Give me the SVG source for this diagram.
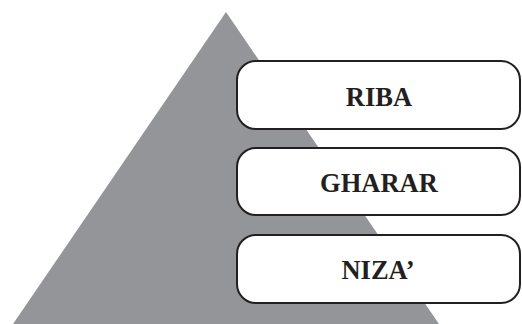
<svg xmlns="http://www.w3.org/2000/svg" width="522" height="324" viewBox="0 0 522 324">
  <style>
    .box { fill: #ffffff; stroke: #231f20; stroke-width: 2; }
    .label { font-family: "Liberation Serif", "DejaVu Serif", serif; font-weight: bold; font-size: 26.5px; fill: #231f20; text-anchor: middle; }
  </style>
  <rect width="522" height="324" fill="#ffffff"/>
  <!-- pyramid backdrop -->
  <polygon id="pyramid" points="226,12 439,324 13,324" fill="#939598"/>
  <g id="riba">
    <rect class="box" x="237" y="61" width="283" height="68" rx="19" ry="19"/>
    <text class="label" x="379" y="106">RIBA</text>
  </g>
  <g id="gharar">
    <rect class="box" x="237" y="148" width="283" height="67" rx="19" ry="19"/>
    <text class="label" x="379" y="192">GHARAR</text>
  </g>
  <g id="niza">
    <rect class="box" x="237" y="235" width="283" height="68" rx="19" ry="19"/>
    <text class="label" x="378" y="279">NIZA’</text>
  </g>
  <g id="connectors"/>
</svg>
